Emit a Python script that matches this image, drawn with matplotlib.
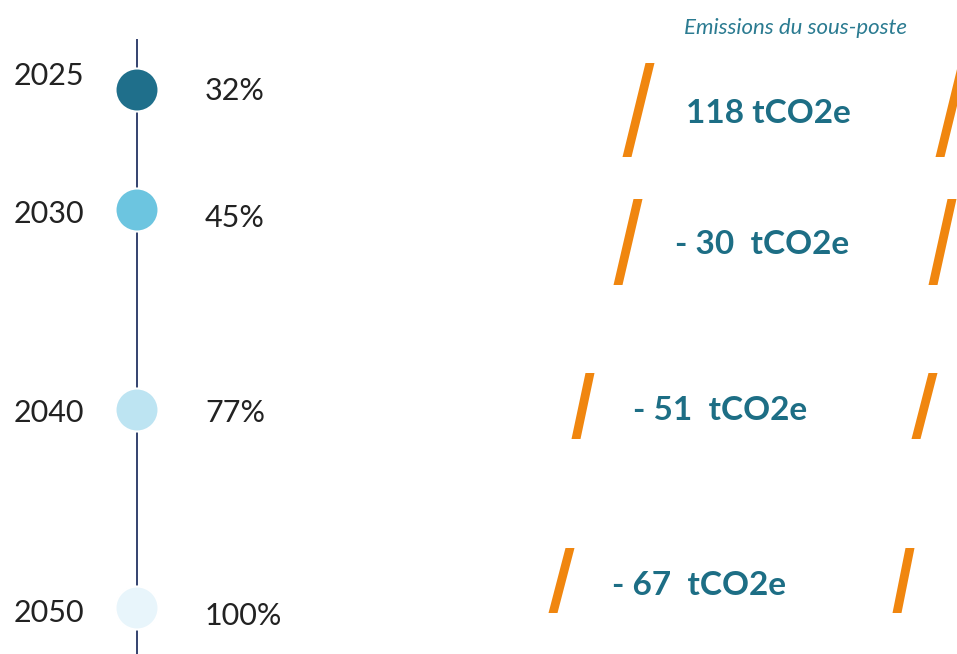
import matplotlib.pyplot as plt

# Data
years = [2025, 2030, 2040, 2050]
reduction = ["32%", "45%", "77%", "100%"]
emissions = [118, -30, -51, -67]
unit = "tCO2e"
header = "Emissions du sous-poste"

# Layout (pixel coords, y pointing down)
row_y = [90, 210, 410, 608]
year_base = [85, 223, 422, 622]
pct_base = [100, 227, 422, 625]
em_x = [686, 675, 633, 612]
em_base = [123, 254, 420, 595]
# slashes: top y, bottom y, left bottom x, left top x, right bottom x, right top x
slashes = [
    (63, 157, 627, 650, 940, 963),
    (199, 285, 618, 638, 933, 952),
    (373, 439, 576, 590, 916, 933),
    (548, 613, 553, 570, 897, 910),
]

dot_colors = ["#1f6f8b", "#6cc5e0", "#bde4f2", "#e8f5fb"]
teal = "#1d6e85"
orange = "#f0860f"
line_col = "#34426f"
plt.rcParams["font.family"] = ["Lato", "DejaVu Sans"]

fig = plt.figure(figsize=(9.57, 6.54), dpi=100)
ax = fig.add_axes([0, 0, 1, 1])
ax.set_xlim(0, 957)
ax.set_ylim(654, 0)
ax.axis("off")

# timeline
ax.plot([137, 137], [40, 654], color=line_col, lw=1.4, zorder=1)
ax.scatter([137] * len(years), row_y, s=960, c=dot_colors,
           edgecolors="white", linewidths=1.5, zorder=2)

for i, yr in enumerate(years):
    ax.text(14, year_base[i], str(yr), fontsize=22, color="#222222",
            ha="left", va="baseline")
    ax.text(205, pct_base[i], reduction[i], fontsize=22, color="#222222",
            ha="left", va="baseline")

    v = emissions[i]
    if v >= 0:
        label = f"{v} {unit}"
    else:
        label = f"- {abs(v)}  {unit}"
    ax.text(em_x[i], em_base[i], label, fontsize=24, fontweight="bold",
            color=teal, ha="left", va="baseline")

    yt, yb, lb, lt, rb, rt = slashes[i]
    for xb, xt in [(lb, lt), (rb, rt)]:
        ax.fill([xb - 4.5, xb + 4.5, xt + 4.5, xt - 4.5], [yb, yb, yt, yt],
                color=orange, lw=0)

ax.text(795, 28, header, fontsize=16, style="italic", color="#2b7b91",
        ha="center", va="center")

fig.savefig("out.png", dpi=100)
